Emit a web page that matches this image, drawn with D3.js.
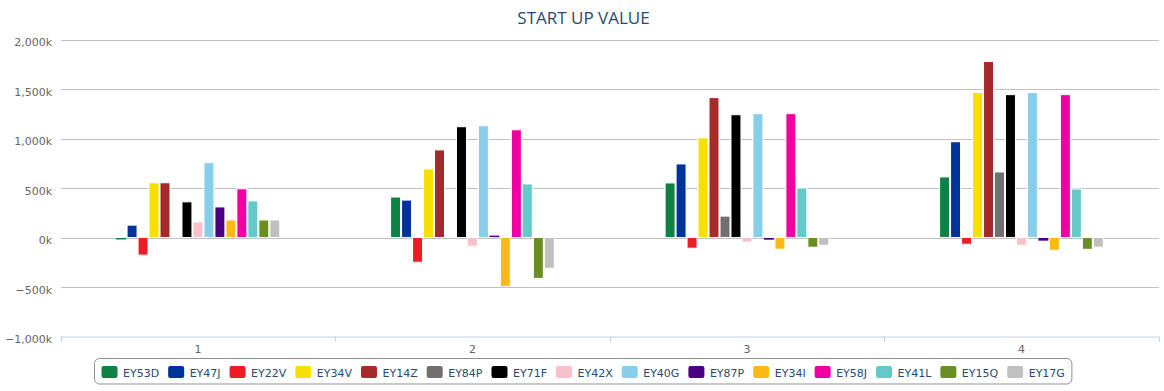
<!DOCTYPE html>
<html>
<head>
<meta charset="utf-8">
<script src="https://cdn.jsdelivr.net/npm/d3@7"></script>
<style>
  html, body { margin: 0; padding: 0; background: #fff; }
  svg { display: block; }
</style>
</head>
<body>
<svg id="chart" width="1164" height="391"></svg>
<script>
const categories = ["1", "2", "3", "4"];
const seriesNames = ["EY53D","EY47J","EY22V","EY34V","EY14Z","EY84P","EY71F","EY42X","EY40G","EY87P","EY34I","EY58J","EY41L","EY15Q","EY17G"];
const seriesColors = ["#0e8145","#003399","#ee1c25","#f7e000","#a52a2a","#736f6e","#000000","#f9c0c9","#87ceeb","#4b0082","#fdb913","#f000a0","#66c9c9","#6b8e23","#c0c0c0"];
// values in thousands, one array per series (categories 1..4)
const EY53D = [-12, 409, 551, 612];
const EY47J = [125, 378, 743, 967];
const EY22V = [-178, -250, -108, -68];
const EY34V = [553, 693, 1007, 1464];
const EY14Z = [553, 885, 1413, 1778];
const EY84P = [null, null, 216, 662];
const EY71F = [360, 1119, 1240, 1443];
const EY42X = [157, -88, -47, -78];
const EY40G = [756, 1129, 1251, 1464];
const EY87P = [309, 14, -17, -27];
const EY34I = [177, -494, -118, -129];
const EY58J = [492, 1088, 1251, 1443];
const EY41L = [370, 541, 500, 490];
const EY15Q = [177, -413, -98, -119];
const EY17G = [177, -311, -78, -98];
const seriesValues = [EY53D,EY47J,EY22V,EY34V,EY14Z,EY84P,EY71F,EY42X,EY40G,EY87P,EY34I,EY58J,EY41L,EY15Q,EY17G];
const yTicks = [-1000, -500, 0, 500, 1000, 1500, 2000];
const titleText = "START UP VALUE";

const svg = d3.select("#chart");
const plot = { left: 60.7, right: 1158.7, top: 39.5, bottom: 336.5 };

const x = d3.scaleBand().domain(categories).range([plot.left, plot.right]).paddingInner(0).paddingOuter(0);
const bw = x.bandwidth();
const xs = d3.scaleBand().domain(seriesNames).range([bw * 0.2, bw * 0.8]).paddingInner(0).paddingOuter(0);
const y = d3.scaleLinear().domain([-1000, 2000]).range([plot.bottom, plot.top]);

// title
svg.append("text")
  .attr("x", 583.5).attr("y", 24)
  .attr("text-anchor", "middle")
  .attr("font-family", "'Open Sans', 'DejaVu Sans', sans-serif")
  .attr("font-size", 17)
  .attr("fill", "#274b6d")
  .text(titleText);

// gridlines
const yAxis = d3.axisLeft(y).tickValues(yTicks)
  .tickSize(-(plot.right - plot.left))
  .tickPadding(8)
  .tickFormat(d => d3.format(",")(d).replace("-", "\u2013") + "k");
const gy = svg.append("g").attr("transform", `translate(${plot.left},0)`).call(yAxis);
gy.select(".domain").remove();
gy.selectAll(".tick line").attr("stroke", "#c0c0c0").attr("stroke-width", 1)
  .attr("shape-rendering", "crispEdges");
gy.selectAll(".tick text")
  .attr("font-family", "'DejaVu Sans', sans-serif")
  .attr("font-size", 11)
  .attr("fill", "#666")
  .attr("dy", "0.55em")
  .attr("x", -8.5);
gy.selectAll(".tick").filter(d => d === -1000).select("line").remove();

// x axis
const xAxis = d3.axisBottom(x).tickSize(0).tickPadding(9);
const gx = svg.append("g").attr("transform", `translate(0,${plot.bottom})`).call(xAxis);
gx.select(".domain").attr("stroke", "#c0d0e0").attr("d", `M${plot.left},0.5H${plot.right}`);
gx.selectAll(".tick text")
  .attr("font-family", "'DejaVu Sans', sans-serif")
  .attr("font-size", 11)
  .attr("fill", "#666");
// category boundary ticks
gx.selectAll(".bound").data(categories.concat(["__end"]))
  .enter().append("line")
  .attr("class", "bound")
  .attr("x1", (d, i) => Math.round(plot.left + i * bw) + 0.5)
  .attr("x2", (d, i) => Math.round(plot.left + i * bw) + 0.5)
  .attr("y1", 0).attr("y2", 5)
  .attr("stroke", "#c0d0e0");

// bars
const bars = [];
seriesNames.forEach((s, si) => {
  categories.forEach((c, ci) => {
    const v = seriesValues[si][ci];
    if (v === null) return;
    bars.push({ s, c, v, color: seriesColors[si] });
  });
});
const barH = d => Math.abs(y(d.v) - y(0));
svg.append("g").selectAll("rect").data(bars).enter().append("rect")
  .attr("x", d => x(d.c) + xs(d.s) + 0.5)
  .attr("y", d => barH(d) < 3 ? (d.v < 0 ? y(0) + 0.5 : y(d.v) - 0.5) : Math.min(y(d.v), y(0)))
  .attr("width", xs.bandwidth() - 1)
  .attr("height", d => Math.max(1.5, barH(d)))
  .attr("fill", d => d.color)
  .attr("stroke", d => barH(d) < 3 ? "none" : "#fff")
  .attr("stroke-width", 1);

// legend
const lg = svg.append("g");
const items = lg.selectAll("g.item").data(seriesNames).enter().append("g").attr("class", "item");
items.append("text")
  .attr("font-family", "'DejaVu Sans', sans-serif")
  .attr("font-size", 11)
  .attr("fill", "#274b6d")
  .text(d => d);
const widths = [];
items.each(function () { widths.push(d3.select(this).select("text").node().getComputedTextLength()); });
const symW = 16, symPad = 5.5, itemDist = 9;
let cx = 0;
const offs = widths.map(w => { const o = cx; cx += symW + symPad + w + itemDist; return o; });
const totalW = cx - itemDist;
const legPad = 7;
const legLeft = 583.2 - totalW / 2;
items.attr("transform", (d, i) => `translate(${legLeft + offs[i]},0)`);
items.insert("rect", "text")
  .attr("x", 0).attr("y", 366).attr("width", symW).attr("height", 12)
  .attr("rx", 2).attr("fill", (d, i) => seriesColors[i]);
items.select("text").attr("x", symW + symPad).attr("y", 376.5);
lg.insert("rect", "g")
  .attr("x", legLeft - legPad).attr("y", 358.5)
  .attr("width", totalW + 2 * legPad).attr("height", 25.5)
  .attr("rx", 5)
  .attr("fill", "none").attr("stroke", "#909090").attr("stroke-width", 1);
</script>
</body>
</html>
